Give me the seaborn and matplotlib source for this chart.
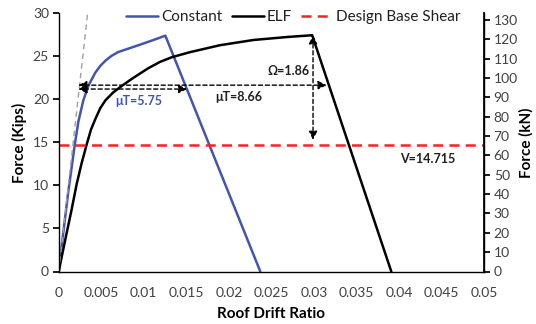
import matplotlib
matplotlib.use("Agg")
import matplotlib.pyplot as plt
import seaborn as sns
import pandas as pd
import numpy as np

sns.set_theme(style="white")
plt.rcParams['font.family'] = ['Lato', 'DejaVu Sans']

# Data
const_drift = [0, 0.0005, 0.00113, 0.0019, 0.00231, 0.0029, 0.0035, 0.0043, 0.0049, 0.0055, 0.0062,
               0.007, 0.0094, 0.011, 0.01254, 0.0237]
const_force = [0, 4.2, 9.3, 14.8, 17.4, 19.9, 21.6, 23.1, 23.9, 24.5, 25.05,
               25.5, 26.3, 26.85, 27.4, 0]
elf_drift = [0, 0.0005, 0.00094, 0.0015, 0.0021, 0.0027, 0.0033, 0.0038, 0.0043, 0.0049, 0.0055, 0.0064,
             0.0074, 0.0084, 0.0094, 0.0105, 0.0119, 0.0133, 0.0155, 0.019, 0.0229, 0.0269, 0.0298, 0.0391]
elf_force = [0, 2.4, 4.5, 7.1, 10.1, 12.6, 14.8, 16.5, 17.7, 19.0, 19.9, 20.8,
             21.55, 22.25, 22.9, 23.6, 24.35, 24.9, 25.5, 26.3, 26.9, 27.25, 27.45, 0]
elastic_drift = [0, 0.0034]
elastic_force = [0, 30]
design_base_shear = 14.715
kips_to_kn = 4.448

mu_const = 5.75
mu_elf = 8.66
omega = 1.86

df = pd.concat([
    pd.DataFrame({"drift": const_drift, "force": const_force, "series": "Constant"}),
    pd.DataFrame({"drift": elf_drift, "force": elf_force, "series": "ELF"}),
])

fig = plt.figure(figsize=(5.36, 3.24), dpi=100)
ax = fig.add_axes([58.7/536, (324-271.5)/324, (484-58.7)/536, (271.5-13.3)/324])

blue = "#4355B0"
sns.lineplot(data=df, x="drift", y="force", hue="series", palette={"Constant": blue, "ELF": "black"},
             sort=False, estimator=None, ax=ax, linewidth=1.8)
for ln in ax.get_lines():
    ln.set_solid_joinstyle("round")
ax.plot(elastic_drift, elastic_force, linestyle=(0, (4, 3)), color="#A0A0A0", linewidth=1.0)
ax.axhline(design_base_shear, color="#FF2020", linestyle=(0, (4, 2.5)), linewidth=1.8, label="Design Base Shear")

ax.set_xlim(0, 0.05)
ax.set_ylim(0, 30)
ax.set_xticks(np.arange(0, 0.0501, 0.005))
ax.set_xticklabels(["0", "0.005", "0.01", "0.015", "0.02", "0.025", "0.03", "0.035", "0.04", "0.045", "0.05"])
ax.set_yticks(range(0, 31, 5))

tick_color = "#404040"
ax.tick_params(axis="y", which="both", left=True, length=4, color="black", labelsize=10, labelcolor=tick_color, pad=3)
ax.tick_params(axis="x", bottom=False, labelsize=10, labelcolor=tick_color, pad=5)
ax.set_xlabel("Roof Drift Ratio", fontsize=11, fontweight="bold", color="black", labelpad=6)
ax.set_ylabel("Force (Kips)", fontsize=11, fontweight="bold", color="black", labelpad=4)

ax.spines["top"].set_visible(False)
for s in ["left", "bottom", "right"]:
    ax.spines[s].set_color("black")
    ax.spines[s].set_linewidth(1.0)

ax2 = ax.twinx()
ax2.set_ylim(0, 30 * kips_to_kn)
ax2.set_yticks(range(0, 131, 10))
ax2.tick_params(axis="y", right=True, length=4, color="black", labelsize=10, labelcolor=tick_color, pad=3)
ax2.set_ylabel("Force (kN)", fontsize=11, fontweight="bold", color="black", labelpad=1)
for s in ["top", "left", "bottom"]:
    ax2.spines[s].set_visible(False)
ax2.spines["right"].set_color("black")

# annotations
arrow_kw = dict(arrowstyle="<|-|>,head_length=0.5,head_width=0.25", linestyle=(0, (3, 2)),
                color="black", lw=1.0, mutation_scale=10, shrinkA=0, shrinkB=0)
ax.annotate("", xy=(0.0023, 21.65), xytext=(0.0315, 21.65), arrowprops=arrow_kw)
ax.annotate("", xy=(0.0023, 21.2), xytext=(0.0151, 21.2), arrowprops=arrow_kw)
ax.annotate("", xy=(0.0299, 27.45), xytext=(0.0299, 15.3), arrowprops=arrow_kw)

ax.text(0.0094, 19.8, f"\u03bcT={mu_const}", color=blue, fontsize=9, fontweight="bold", ha="center", va="center")
ax.text(0.0212, 20.3, f"\u03bcT={mu_elf}", color="#202020", fontsize=9, fontweight="bold", ha="center", va="center")
ax.text(0.0270, 23.3, f"\u03a9={omega}", color="#202020", fontsize=9, fontweight="bold", ha="center", va="center")
ax.text(0.0434, 13.1, f"V={design_base_shear}", color="#202020", fontsize=9, fontweight="bold", ha="center", va="center")

handles, labels = ax.get_legend_handles_labels()
leg = ax.legend(handles, labels, loc="center", bbox_to_anchor=(0.552, 0.985), ncol=3, frameon=False,
                fontsize=11, handlelength=2.1, columnspacing=0.6, handletextpad=0.2)
for t in leg.get_texts():
    t.set_color("#202020")

fig.savefig("out.png", dpi=100)
